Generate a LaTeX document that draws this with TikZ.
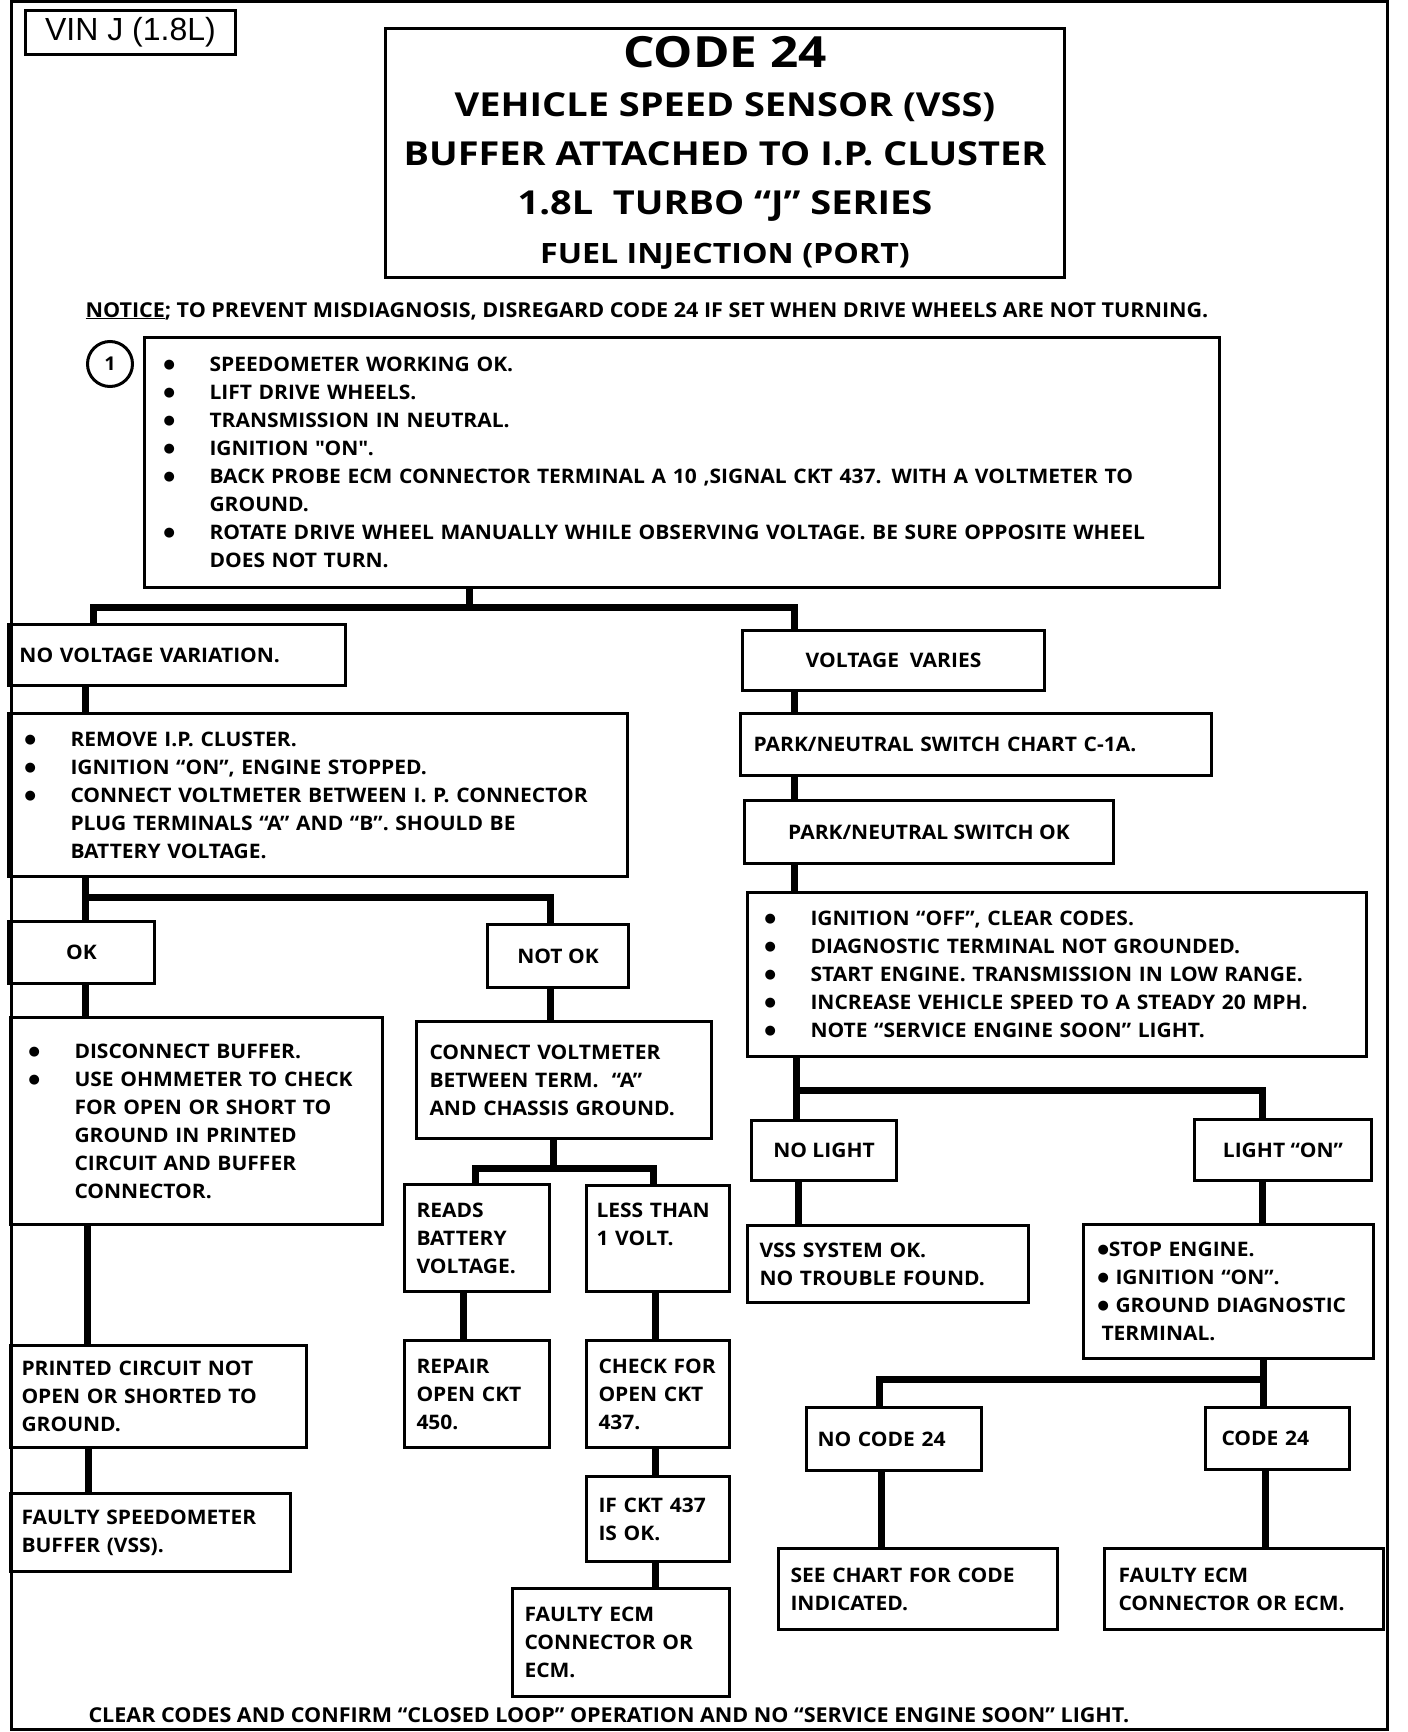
\documentclass[tikz,border=0pt]{standalone}
\usepackage{fontspec}
\setmainfont{Open Sans}[FakeStretch=1.05]
\newfontfamily\titlefont{Open Sans}[FakeStretch=1.15]
\newfontfamily\vinfont{Liberation Sans}
\newfontfamily\dotfont{DejaVu Sans}
\newlength\bulgap
\setlength\bulgap{46pt}
\newcommand\bulmark{\raisebox{3pt}{\dotfont\fontsize{13}{13}\selectfont ●}}
\newcommand\bul{\makebox[\bulgap][l]{\bulmark}}
\newcommand\bulcont{\hspace*{\bulgap}}

\begin{document}
\begin{tikzpicture}[x=1pt, y=-1pt,
    box/.style={draw, line width=3pt, anchor=north west, inner ysep=0pt},
    lbox/.style={box, align=left},
    conn/.style={line width=7pt},
    every node/.style={font=\bfseries\fontsize{20}{28}\selectfont}]
    \useasboundingbox (0,0) rectangle (1408,1732);

    % Outer frame of the page
    \draw[line width=3pt] (11.5,1.5) rectangle (1387,1729.5);

    % Heading
    \node[box, minimum width=210pt, minimum height=44pt, font=\vinfont\fontsize{32}{32}\selectfont] (vin) at (24,9) {VIN J (1.8L)};
    \node[box, minimum width=679pt, minimum height=249pt, align=center, font=\titlefont\bfseries\fontsize{33}{49}\selectfont] (title) at (384,27)
        {{\fontsize{43}{49}\selectfont CODE 24}\\ VEHICLE SPEED SENSOR (VSS)\\ BUFFER ATTACHED TO I.P. CLUSTER\\ 1.8L\ \ TURBO “J” SERIES\\ {\fontsize{28}{49}\selectfont FUEL INJECTION (PORT)}};
    \node[anchor=base west, font=\bfseries\fontsize{20.5}{28}\selectfont] (notice) at (82,317) {\underline{NOTICE}; TO PREVENT MISDIAGNOSIS, DISREGARD CODE 24 IF SET WHEN DRIVE WHEELS ARE NOT TURNING.};

    % Step 1
    \node[draw, circle, line width=3pt, minimum size=45pt, inner sep=0pt, font=\bfseries\fontsize{19}{19}\selectfont] (one) at (110,364) {1};
    \node[lbox, minimum width=1075pt, minimum height=250pt, inner xsep=19pt, text width=1037pt] (chk) at (143,336)
        {\bul SPEEDOMETER WORKING OK.\\ \bul LIFT DRIVE WHEELS.\\ \bul TRANSMISSION IN NEUTRAL.\\ \bul IGNITION \textquotedbl ON\textquotedbl.\\
         \bul BACK PROBE ECM CONNECTOR TERMINAL A 10 ,SIGNAL CKT 437. WITH A VOLTMETER TO\\ \bulcont GROUND.\\
         \bul ROTATE DRIVE WHEEL MANUALLY WHILE OBSERVING VOLTAGE. BE SURE OPPOSITE WHEEL\\ \bulcont DOES NOT TURN.};

    % Left branch: no voltage variation
    \node[lbox, minimum width=337pt, minimum height=61pt, inner xsep=11pt, text width=315pt] (nvv) at (7,623) {NO VOLTAGE VARIATION.};
    \node[lbox, minimum width=619pt, minimum height=163pt, inner xsep=16pt, text width=587pt] (rem) at (7,712)
        {\bul REMOVE I.P. CLUSTER.\\ \bul IGNITION “ON”, ENGINE STOPPED.\\ \bul CONNECT VOLTMETER BETWEEN I. P. CONNECTOR\\
         \bulcont PLUG TERMINALS “A” AND “B”. SHOULD BE\\ \bulcont BATTERY VOLTAGE.};
    \node[box, minimum width=146pt, minimum height=62pt] (ok) at (7,920) {OK};
    \node[box, minimum width=141pt, minimum height=63pt] (nok) at (486,923) {NOT OK};
    \node[lbox, minimum width=372pt, minimum height=207pt, inner xsep=18pt, text width=336pt] (disc) at (9,1016)
        {\bul DISCONNECT BUFFER.\\ \bul USE OHMMETER TO CHECK\\ \bulcont FOR OPEN OR SHORT TO\\ \bulcont GROUND IN PRINTED\\
         \bulcont CIRCUIT AND BUFFER\\ \bulcont CONNECTOR.};
    \node[lbox, minimum width=296pt, minimum height=102pt, inner xsep=11pt, text width=274pt] (pcb) at (9,1344)
        {PRINTED CIRCUIT NOT\\ OPEN OR SHORTED TO\\ GROUND.};
    \node[lbox, minimum width=280pt, minimum height=78pt, inner xsep=11pt, text width=258pt] (fspd) at (9,1492)
        {FAULTY SPEEDOMETER\\ BUFFER (VSS).};

    % Middle column: not ok
    \node[lbox, minimum width=295pt, minimum height=117pt, inner xsep=13pt, text width=269pt] (cvm) at (415,1020)
        {CONNECT VOLTMETER\\ BETWEEN TERM.\ \ “A”\\ AND CHASSIS GROUND.};
    \node[lbox, minimum width=145pt, minimum height=107pt, inner xsep=12pt, text width=121pt] (reads) at (403,1183)
        {READS\\ BATTERY\\ VOLTAGE.};
    \node[lbox, minimum width=143pt, minimum height=106pt, inner xsep=10pt, text width=123pt] (less) at (585,1184)
        {LESS~THAN\\ 1~VOLT.\\ \mbox{}};
    \node[lbox, minimum width=145pt, minimum height=107pt, inner xsep=12pt, text width=121pt] (rep) at (403,1339)
        {REPAIR\\ OPEN~CKT\\ 450.};
    \node[lbox, minimum width=143pt, minimum height=107pt, inner xsep=12pt, text width=119pt] (chkckt) at (585,1339)
        {CHECK~FOR\\ OPEN~CKT\\ 437.};
    \node[lbox, minimum width=143pt, minimum height=85pt, inner xsep=12pt, text width=119pt] (ifok) at (585,1475)
        {IF~CKT~437\\ IS~OK.};
    \node[lbox, minimum width=217pt, minimum height=108pt, inner xsep=12pt, text width=193pt] (fecm) at (511,1587)
        {FAULTY ECM\\ CONNECTOR~OR\\ ECM.};

    % Right branch: voltage varies
    \node[box, minimum width=302pt, minimum height=60pt] (vv) at (741,629) {VOLTAGE\ \ VARIES};
    \node[lbox, minimum width=471pt, minimum height=62pt, inner xsep=13pt, text width=445pt] (pnc) at (739,712) {PARK/NEUTRAL SWITCH CHART C-1A.};
    \node[box, minimum width=369pt, minimum height=63pt] (pnok) at (743,799) {PARK/NEUTRAL SWITCH OK};
    \node[lbox, minimum width=619pt, minimum height=164pt, inner xsep=17pt, text width=585pt] (ign) at (746,891)
        {\bul IGNITION “OFF”, CLEAR CODES.\\ \bul DIAGNOSTIC TERMINAL NOT GROUNDED.\\ \bul START ENGINE. TRANSMISSION IN LOW RANGE.\\
         \bul INCREASE VEHICLE SPEED TO A STEADY 20 MPH.\\ \bul NOTE “SERVICE ENGINE SOON” LIGHT.};
    \node[box, minimum width=145pt, minimum height=60pt] (nol) at (750,1119) {NO LIGHT};
    \node[box, minimum width=177pt, minimum height=61pt] (lon) at (1193,1118) {LIGHT “ON”};
    \node[lbox, minimum width=281pt, minimum height=77pt, inner xsep=12pt, text width=257pt] (vss) at (746,1224)
        {VSS SYSTEM OK.\\ NO TROUBLE FOUND.};
    \node[lbox, minimum width=290pt, minimum height=134pt, inner xsep=14pt, text width=262pt] (stop) at (1082,1223)
        {\bulmark STOP ENGINE.\\ \bulmark\ IGNITION “ON”.\\ \bulmark\ GROUND DIAGNOSTIC\\ \hspace*{4pt}TERMINAL.};
    \node[lbox, minimum width=175pt, minimum height=63pt, inner xsep=11pt, text width=153pt] (noc) at (805,1406) {NO CODE 24};
    \node[lbox, minimum width=144pt, minimum height=62pt, inner xsep=16pt, text width=112pt] (c24) at (1204,1406) {CODE 24};
    \node[lbox, minimum width=279pt, minimum height=81pt, inner xsep=12pt, text width=255pt] (see) at (777,1547)
        {SEE CHART FOR CODE\\ INDICATED.};
    \node[lbox, minimum width=279pt, minimum height=81pt, inner xsep=14pt, text width=251pt] (fecm2) at (1103,1547)
        {FAULTY ECM\\ CONNECTOR OR ECM.};

    \node[anchor=base west, font=\bfseries\fontsize{20.5}{28}\selectfont] (clear) at (85,1722) {CLEAR CODES AND CONFIRM “CLOSED LOOP” OPERATION AND NO “SERVICE ENGINE SOON” LIGHT.};

    % Branch points of the flow lines
    \coordinate (b1) at (469,607);
    \coordinate (b2) at (85,897);
    \coordinate (b3) at (553,1168);
    \coordinate (b4) at (796,1090);
    \coordinate (b5) at (1263,1379);

    % Flow lines
    \draw[conn] ([xshift=326pt]chk.south west) -- (b1);
    \draw[conn] ([xshift=86pt]nvv.north west) |- (b1) -| ([xshift=53pt]vv.north west);
    \draw[conn] ([xshift=78pt]nvv.south west) -- ([xshift=78pt]rem.north west);
    \draw[conn] ([xshift=78pt]rem.south west) -- ([xshift=78pt]ok.north west);
    \draw[conn] (b2) -| ([xshift=64pt]nok.north west);
    \draw[conn] ([xshift=78pt]ok.south west) -- ([xshift=76pt]disc.north west);
    \draw[conn] ([xshift=78pt]disc.south west) -- ([xshift=78pt]pcb.north west);
    \draw[conn] ([xshift=79pt]pcb.south west) -- ([xshift=79pt]fspd.north west);
    \draw[conn] ([xshift=64pt]nok.south west) -- ([xshift=135pt]cvm.north west);
    \draw[conn] ([xshift=138pt]cvm.south west) -- (b3);
    \draw[conn] ([xshift=72pt]reads.north west) |- (b3) -| ([xshift=68pt]less.north west);
    \draw[conn] ([xshift=60pt]reads.south west) -- ([xshift=60pt]rep.north west);
    \draw[conn] ([xshift=70pt]less.south west) -- ([xshift=70pt]chkckt.north west);
    \draw[conn] ([xshift=70pt]chkckt.south west) -- ([xshift=70pt]ifok.north west);
    \draw[conn] ([xshift=70pt]ifok.south west) -- ([xshift=144pt]fecm.north west);
    \draw[conn] ([xshift=53pt]vv.south west) -- ([xshift=55pt]pnc.north west);
    \draw[conn] ([xshift=55pt]pnc.south west) -- ([xshift=51pt]pnok.north west);
    \draw[conn] ([xshift=51pt]pnok.south west) -- ([xshift=48pt]ign.north west);
    \draw[conn] ([xshift=50pt]ign.south west) -- ([xshift=46pt]nol.north west);
    \draw[conn] (b4) -| ([xshift=69pt]lon.north west);
    \draw[conn] ([xshift=48pt]nol.south west) -- ([xshift=52pt]vss.north west);
    \draw[conn] ([xshift=69pt]lon.south west) -- ([xshift=180pt]stop.north west);
    \draw[conn] ([xshift=181pt]stop.south west) -- ([xshift=59pt]c24.north west);
    \draw[conn] (b5) -| ([xshift=74pt]noc.north west);
    \draw[conn] ([xshift=76pt]noc.south west) -- ([xshift=104pt]see.north west);
    \draw[conn] ([xshift=61pt]c24.south west) -- ([xshift=162pt]fecm2.north west);
\end{tikzpicture}
\end{document}
